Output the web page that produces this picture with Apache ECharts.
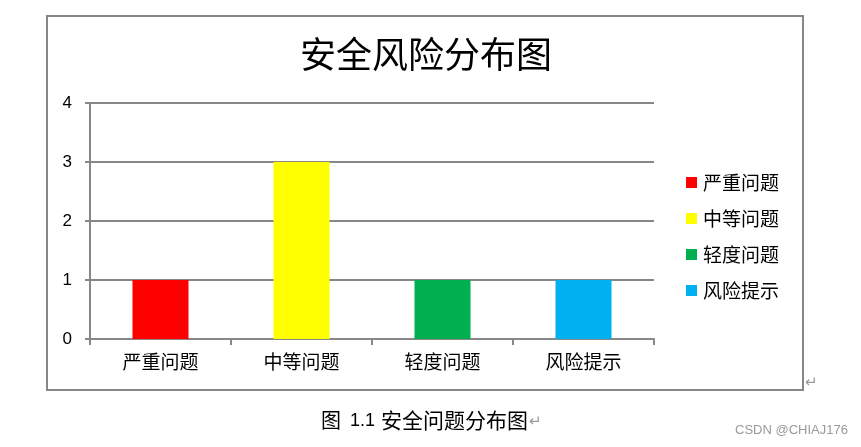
<!DOCTYPE html>
<html>
<head>
<meta charset="utf-8">
<script src="https://cdn.jsdelivr.net/npm/echarts@6/dist/echarts.min.js"></script>
<style>
  html, body { margin: 0; padding: 0; background: #fff; }
  #chart { width: 861px; height: 447px; }
</style>
</head>
<body>
<div id="chart"></div>
<script>
// 分类
var categories = ['严重问题', '中等问题', '轻度问题', '风险提示'];
// 每类的数量
var counts = [1, 3, 1, 1];
var colors = ['#FF0000', '#FFFF00', '#00B050', '#00B0F0'];
var yTicks = [0, 1, 2, 3, 4];

var font = '"Noto Sans CJK SC", "Liberation Sans", sans-serif';
var gray = '#878787';

// 每个分类一个系列，这样图例能显示四项
var series = categories.map(function (name, i) {
    return {
        name: name,
        type: 'bar',
        stack: 'all',
        barWidth: 56,
        itemStyle: { color: colors[i] },
        data: counts.map(function (v, j) { return j === i ? v : null; })
    };
});

var chart = echarts.init(document.getElementById('chart'));
chart.setOption({
    animation: false,
    textStyle: { fontFamily: font },
    title: {
        text: '安全风险分布图',
        left: 421,
        top: 31,
        textAlign: 'center',
        textStyle: { fontSize: 36, fontWeight: 'normal', color: '#000', fontFamily: font }
    },
    legend: {
        orient: 'vertical',
        left: 681,
        top: 168,
        itemWidth: 11,
        itemHeight: 11,
        itemGap: 17,
        icon: 'rect',
        textStyle: { fontSize: 19, color: '#000', padding: [0, 0, 0, 1] },
        data: categories
    },
    grid: { left: 90, right: 207, top: 103, bottom: 108 },
    xAxis: {
        type: 'category',
        data: categories,
        axisLine: { lineStyle: { color: gray, width: 2 } },
        axisTick: { show: true, length: 6, lineStyle: { color: gray, width: 2 } },
        axisLabel: { fontSize: 19, color: '#000', margin: 13 }
    },
    yAxis: {
        type: 'value',
        min: yTicks[0],
        max: yTicks[yTicks.length - 1],
        interval: 1,
        axisLine: { show: true, lineStyle: { color: gray, width: 2 } },
        axisTick: { show: true, length: 5, lineStyle: { color: gray, width: 2 } },
        axisLabel: { fontSize: 17, color: '#000', margin: 18, fontFamily: '"Liberation Sans", sans-serif' },
        splitLine: { lineStyle: { color: gray, width: 2 } }
    },
    graphic: [
        {
            type: 'rect',
            shape: { x: 47, y: 16, width: 756, height: 374 },
            style: { fill: 'none', stroke: gray, lineWidth: 2 },
            z: -1
        },
        {
            type: 'text',
            left: 805, top: 374,
            style: { text: '↵', fontSize: 15, fill: '#999', fontFamily: font }
        },
        {
            type: 'text',
            left: 321, top: 410,
            style: { text: '图', fontSize: 20, fill: '#000', fontFamily: font }
        },
        {
            type: 'text',
            left: 350, top: 412,
            style: { text: '1.1', fontSize: 18, fill: '#000', fontFamily: '"Liberation Sans", sans-serif' }
        },
        {
            type: 'text',
            left: 381, top: 410,
            style: { text: '安全问题分布图', fontSize: 21, fill: '#000', fontFamily: font }
        },
        {
            type: 'text',
            left: 529, top: 413,
            style: { text: '↵', fontSize: 15, fill: '#999', fontFamily: font }
        },
        {
            type: 'text',
            left: 735, top: 424,
            style: { text: 'CSDN @CHIAJ176', fontSize: 13, fill: '#999', fontFamily: '"Liberation Sans", sans-serif' }
        }
    ],
    series: series
});
</script>
</body>
</html>
